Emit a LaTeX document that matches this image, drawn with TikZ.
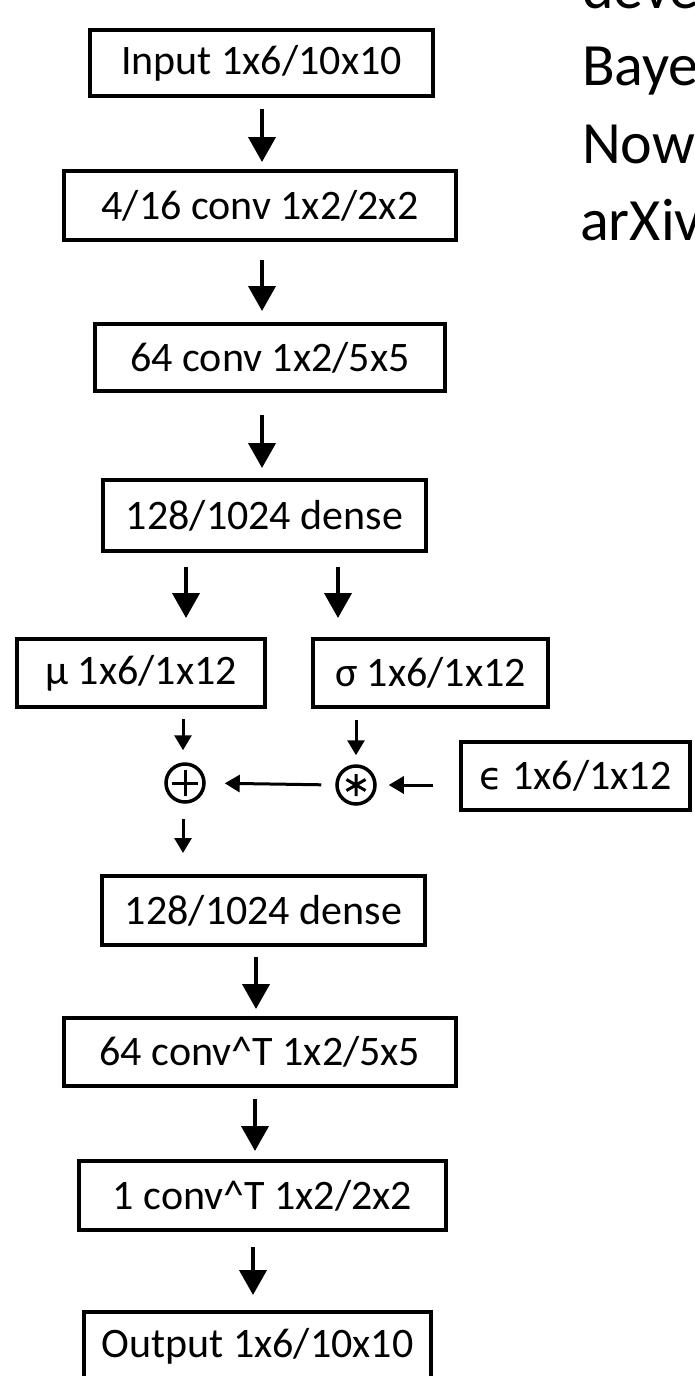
\documentclass[tikz,border=0pt]{standalone}
\usepackage{fontspec}
\setmainfont{Carlito}
\newfontfamily\djv{DejaVu Sans}
\usetikzlibrary{arrows.meta}
\begin{document}
\begin{tikzpicture}[x=1pt,y=-1pt,
  box/.style={draw, line width=4pt, inner sep=0pt, font=\fontsize{42}{50}\selectfont},
  opnode/.style={draw, circle, line width=3.5pt, inner sep=0pt, minimum size=38pt},
  bigarrow/.style={line width=4pt, -{Triangle[length=25pt,width=27pt]}},
  smallarrow/.style={line width=3pt, -{Triangle[length=15pt,width=17pt]}},
  sidetext/.style={anchor=base west, inner sep=0pt, font=\fontsize{60}{72}\selectfont}]
\useasboundingbox (0,0) rectangle (694,1376);
\clip (0,0) rectangle (694,1376);

% side text (cut by the right edge)
\node[sidetext] (t1) at (582,8) {deve};
\node[sidetext] (t2) at (582,85) {Baye};
\node[sidetext] (t3) at (582,163) {Now};
\node[sidetext] (t4) at (580,240) {arXiv};

% boxes
\node[box, minimum width=343pt, minimum height=66pt] (in) at (261.5,63) {Input 1x6/10x10};
\node[box, minimum width=392pt, minimum height=69pt] (b2) at (260,205.5) {4/16 conv 1x2/2x2};
\node[box, minimum width=350pt, minimum height=67pt] (b3) at (270,357.5) {64 conv 1x2/5x5};
\node[box, minimum width=323pt, minimum height=71pt] (d1) at (264.5,515.5) {128/1024 dense};
\node[box, minimum width=248pt, minimum height=68pt] (mu) at (141,673) {μ 1x6/1x12};
\node[box, minimum width=235pt, minimum height=68pt] (sg) at (430.5,673) {σ 1x6/1x12};
\node[box, minimum width=229pt, minimum height=68pt] (ep) at (575.5,776) {{\djv\fontsize{38}{46}\selectfont ϵ} 1x6/1x12};
\node[box, minimum width=323pt, minimum height=69pt] (d2) at (263.5,910.5) {128/1024 dense};
\node[box, minimum width=392pt, minimum height=68pt] (b9) at (260,1052) {64 conv\textasciicircum T 1x2/5x5};
\node[box, minimum width=367pt, minimum height=69pt] (b10) at (262.5,1195.5) {1 conv\textasciicircum T 1x2/2x2};
\node[box, minimum width=347pt, minimum height=68pt] (out) at (257.5,1346) {Output 1x6/10x10};

% operators
\node[opnode] (plus) at (185,783) {};
\draw[line width=3pt] ([yshift=-13pt]plus.center) -- ([yshift=13pt]plus.center)
  ([xshift=-13pt]plus.center) -- ([xshift=13pt]plus.center);
\node[opnode] (star) at (356,785) {};
\draw[line width=3pt] ([shift={(90:11pt)}]star.center) -- ([shift={(270:11pt)}]star.center)
  ([shift={(30:11pt)}]star.center) -- ([shift={(210:11pt)}]star.center)
  ([shift={(150:11pt)}]star.center) -- ([shift={(330:11pt)}]star.center);

% column coordinates
\coordinate (c1) at (262,0);
\coordinate (cmu) at (186,0);
\coordinate (csg) at (338,0);
\coordinate (cp) at (183,0);
\coordinate (cs) at (356,0);
\coordinate (c5) at (256,0);
\coordinate (c6) at (255,0);
\coordinate (c7) at (253,0);

% connectors
\draw[bigarrow, shorten <=11pt, shorten >=7pt] (in.south -| c1) -- (b2.north -| c1);
\draw[bigarrow, shorten <=18pt, shorten >=11pt] (b2.south -| c1) -- (b3.north -| c1);
\draw[bigarrow, shorten <=22pt, shorten >=10pt] (b3.south -| c1) -- (d1.north -| c1);
\draw[bigarrow, shorten <=14pt, shorten >=19pt] (d1.south -| cmu) -- (mu.north -| cmu);
\draw[bigarrow, shorten <=14pt, shorten >=19pt] (d1.south -| csg) -- (sg.north -| csg);
\draw[smallarrow, shorten <=10pt, shorten >=12pt] (mu.south -| cp) -- (plus.north -| cp);
\draw[smallarrow, shorten <=11pt, shorten >=9pt] (sg.south -| cs) -- (star.north);
\draw[smallarrow, shorten <=14pt, shorten >=19pt] (star.west) -- (plus.east);
\draw[smallarrow, shorten <=26pt, shorten >=12pt] (ep.west |- star.east) -- (star.east);
\draw[smallarrow, shorten <=15pt, shorten >=21pt] (plus.south -| cp) -- (d2.north -| cp);
\draw[bigarrow, shorten <=10pt, shorten >=7pt] (d2.south -| c5) -- (b9.north -| c5);
\draw[bigarrow, shorten <=11pt, shorten >=8pt] (b9.south -| c6) -- (b10.north -| c6);
\draw[bigarrow, shorten <=15pt, shorten >=15pt] (b10.south -| c7) -- (out.north -| c7);
\end{tikzpicture}
\end{document}
